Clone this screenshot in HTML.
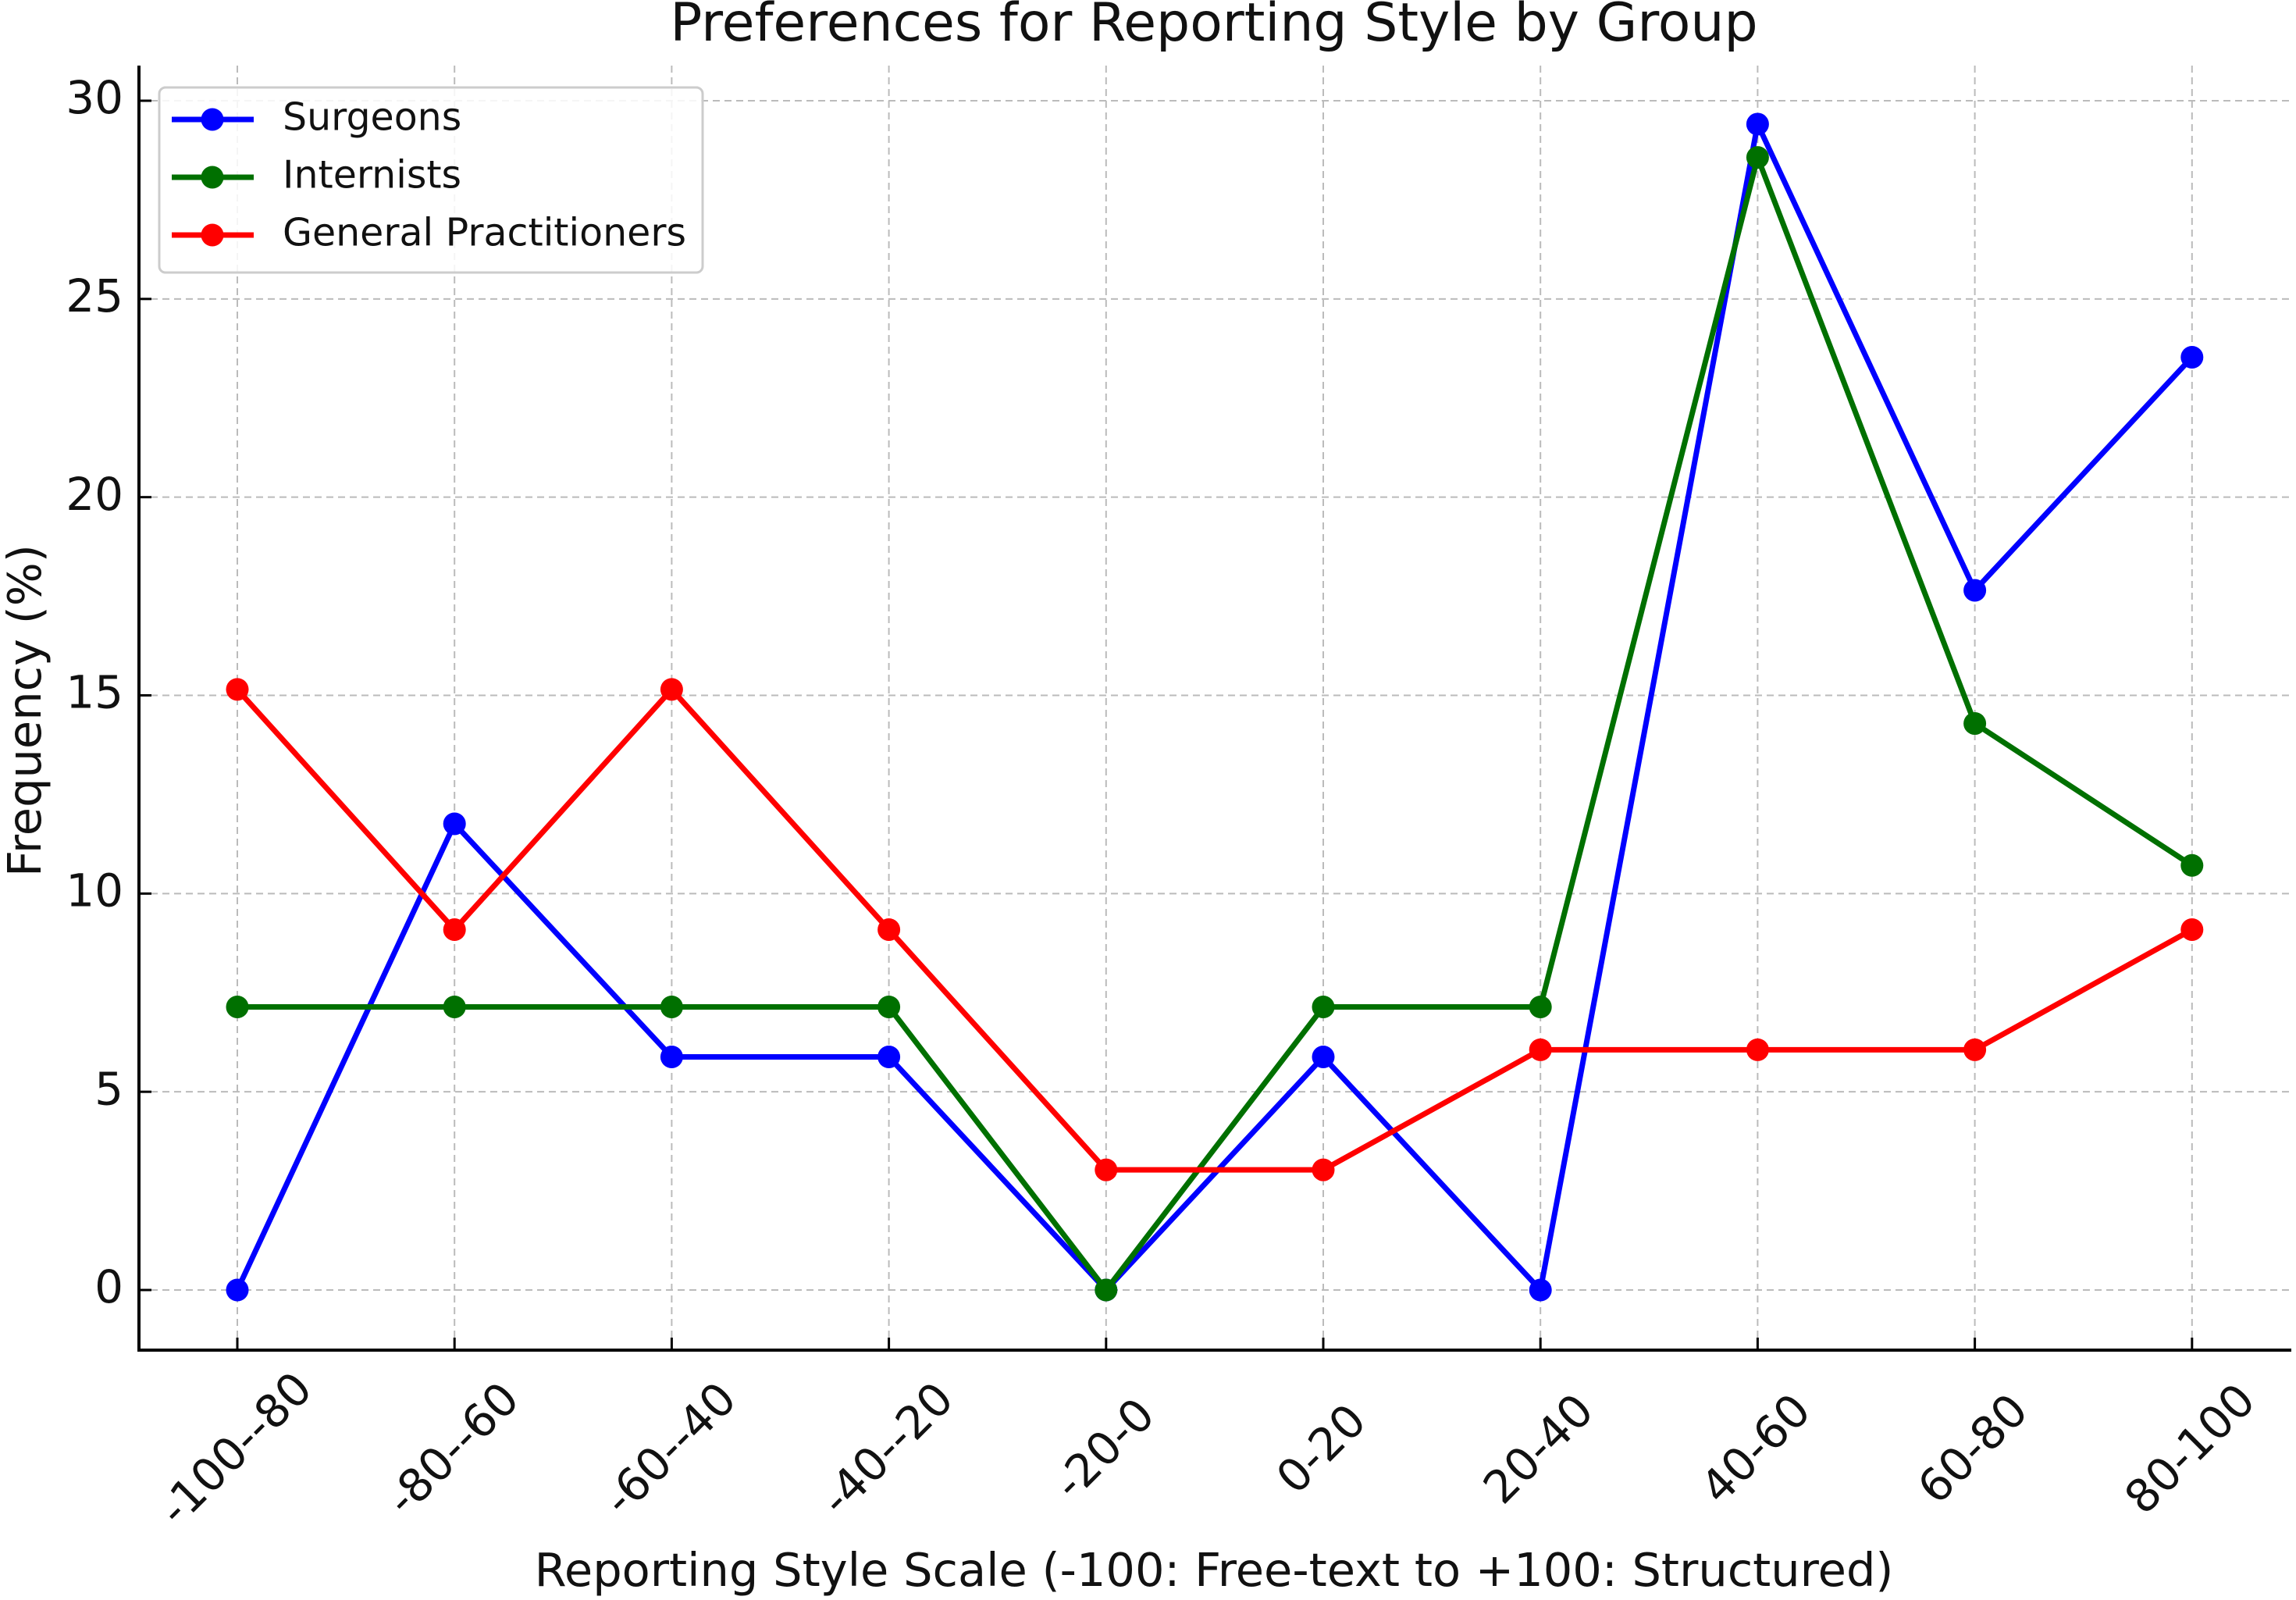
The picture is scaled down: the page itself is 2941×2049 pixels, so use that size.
<!DOCTYPE html>
<html><head><meta charset="utf-8"><style>
html,body{margin:0;padding:0;background:#fff;}
svg{display:block;font-family:"DejaVu Sans","Liberation Sans",sans-serif;}
</style></head><body>
<svg id="chart" width="2941" height="2049" viewBox="0 0 2941 2049" xmlns="http://www.w3.org/2000/svg">
<rect width="2941" height="2049" fill="#fff"/>
<text x="1555" y="52" font-size="68" text-anchor="middle" fill="#111">Preferences for Reporting Style by Group</text>
<g id="grid"></g>
<g id="axes"></g>
<g id="series"></g>
<text x="1555" y="2031" font-size="59" text-anchor="middle" fill="#111">Reporting Style Scale (-100: Free-text to +100: Structured)</text>
<text transform="translate(52,910) rotate(-90)" font-size="59" text-anchor="middle" fill="#111">Frequency (%)</text>
<g>
<rect x="204" y="112" width="696" height="237" rx="8" fill="#fff" fill-opacity="0.85" stroke="#ccc" stroke-width="3"/>
<g id="legend-items"></g>
</g>
</svg>
<script>
const categories = ["-100--80","-80--60","-60--40","-40--20","-20-0","0-20","20-40","40-60","60-80","80-100"];
const surgeons = [0, 11.76, 5.88, 5.88, 0, 5.88, 0, 29.41, 17.65, 23.53];
const internists = [7.14, 7.14, 7.14, 7.14, 0, 7.14, 7.14, 28.57, 14.29, 10.71];
const generalPractitioners = [15.15, 9.09, 15.15, 9.09, 3.03, 3.03, 6.06, 6.06, 6.06, 9.09];
const yTicks = [0, 5, 10, 15, 20, 25, 30];
const seriesNames = ["Surgeons", "Internists", "General Practitioners"];

const NS = "http://www.w3.org/2000/svg";
const L = 178, R = 2935, T = 84, B = 1729;
const X0 = 304, XSTEP = 278.2;
const Y0PIX = 1652, Y30PIX = 129;
function xs(i){ return X0 + i * XSTEP; }
function ys(v){ return Y0PIX + (Y30PIX - Y0PIX) * v / 30; }
function mk(tag, attrs, parent){ const e = document.createElementNS(NS, tag); for (const k in attrs) e.setAttribute(k, attrs[k]); parent.appendChild(e); return e; }

const grid = document.getElementById('grid');
const axes = document.getElementById('axes');
categories.forEach((c, i) => {
  const g = mk('line', {x1: xs(i), x2: xs(i), y1: T, y2: B, stroke: '#bbb', 'stroke-width': 2, 'stroke-dasharray': '9,6'}, grid);
  
  
  const t = mk('line', {x1: xs(i), x2: xs(i), y1: B, y2: B - 16, stroke: '#000', 'stroke-width': 3}, axes);
  
  
  const lab = mk('text', {x: xs(i), y: 1858, 'font-size': 58, 'text-anchor': 'middle', 'dominant-baseline': 'middle', fill: '#111', transform: `rotate(-45 ${xs(i)} 1858)`}, axes);
  lab.textContent = c;
  
  
});
yTicks.forEach(v => {
  const g = mk('line', {x1: L, x2: R, y1: ys(v), y2: ys(v), stroke: '#bbb', 'stroke-width': 2, 'stroke-dasharray': '9,6'}, grid);
  
  
  const t = mk('line', {x1: L, x2: L + 16, y1: ys(v), y2: ys(v), stroke: '#000', 'stroke-width': 3}, axes);
  
  
  const lab = mk('text', {x: L - 20, y: ys(v), 'font-size': 58, 'text-anchor': 'end', 'dominant-baseline': 'middle', fill: '#111'}, axes);
  lab.textContent = v;
  
  
});
const ax1 = mk('line', {x1: L, x2: L, y1: T, y2: B + 2, stroke: '#000', 'stroke-width': 4}, axes);


const ax2 = mk('line', {x1: L - 2, x2: R, y1: B, y2: B, stroke: '#000', 'stroke-width': 4}, axes);



const seriesG = document.getElementById('series');
const allSeries = [surgeons, internists, generalPractitioners];
const colors = ['#0000ff', '#007000', '#ff0000'];
allSeries.forEach((vals, s) => {
  const g = mk('g', {}, seriesG);
  
  
  const pts = vals.map((v, i) => xs(i) + ',' + ys(v)).join(' ');
  const pl = mk('polyline', {points: pts, fill: 'none', stroke: colors[s], 'stroke-width': 7, 'stroke-linejoin': 'round'}, g);
  
  
  vals.forEach((v, i) => {
    const c = mk('circle', {cx: xs(i), cy: ys(v), r: 14.5, fill: colors[s]}, g);
    
    
  });
});

const leg = document.getElementById('legend-items');
seriesNames.forEach((n, s) => {
  const y = 153 + s * 74;
  const g = mk('g', {}, leg);
  
  
  mk('line', {x1: 220, x2: 325, y1: y, y2: y, stroke: colors[s], 'stroke-width': 7}, g);
  mk('circle', {cx: 272, cy: y, r: 14.5, fill: colors[s]}, g);
  const t = mk('text', {x: 362, y: y, 'font-size': 49, 'dominant-baseline': 'middle', fill: '#111'}, g);
  t.textContent = n;
});
</script>
</body></html>
